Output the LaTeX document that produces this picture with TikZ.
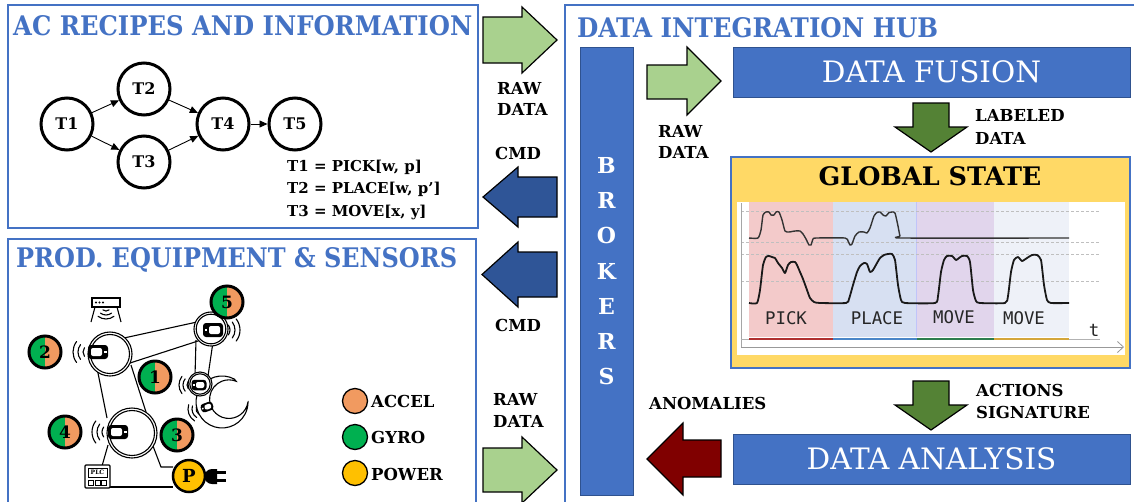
\documentclass[tikz,border=0pt]{standalone}
\usepackage{fontspec}
\usepackage{graphicx}
\setmainfont{DejaVu Serif}
\newfontfamily\monofam{DejaVu Sans Mono}
\usetikzlibrary{arrows.meta}

\definecolor{tblue}{HTML}{4472C4}
\definecolor{boxblue}{HTML}{4472C4}
\definecolor{boxedge}{HTML}{2F528F}
\definecolor{lgreen}{HTML}{A9D18E}
\definecolor{cmdblue}{HTML}{2F5597}
\definecolor{dgreen}{HTML}{548235}
\definecolor{dred}{HTML}{800000}
\definecolor{gsyellow}{HTML}{FFD966}
\definecolor{sgreen}{HTML}{00B050}
\definecolor{sorange}{HTML}{F19A60}
\definecolor{pyellow}{HTML}{FFC000}
\definecolor{bandpick}{HTML}{F3CACA}
\definecolor{bandplace}{HTML}{D7E0F2}
\definecolor{bandmove}{HTML}{E1D5EC}
\definecolor{bandmoveb}{HTML}{EEF1F8}
\definecolor{segred}{HTML}{B03030}
\definecolor{segblue}{HTML}{4A86C8}
\definecolor{seggreen}{HTML}{2E7D4F}
\definecolor{seggold}{HTML}{D4A63A}

% panel heading set to a fixed width and cap height
\newcommand{\heading}[2]{\resizebox{#1}{20pt}{#2}}
% small sensor housing: black body, white window, white status dash
\newcommand{\sglyph}[4]{%
  \begin{scope}[shift={(#1,#2)}, rotate=#3, scale=#4]
    \fill[black, rounded corners=3pt] (-10,-7) rectangle (10,7);
    \fill[white, rounded corners=2pt] (-7,-4) rectangle (4,4);
    \fill[white] (6,-1.2) rectangle (8.5,1.2);
  \end{scope}}
% wireless waves: centre x, centre y, direction (deg, y down), radii
\newcommand{\swaves}[4]{%
  \foreach \rr in {#4} {\draw[wave] (#1,#2) ++({#3-38}:\rr) arc[start angle={#3-38}, end angle={#3+38}, radius=\rr];}}

\begin{document}
\begin{tikzpicture}[x=1pt, y=-1pt,
  panel/.style={draw=tblue, line width=1.3},
  ttl/.style={text=tblue, font=\bfseries, anchor=base west, inner sep=0},
  lbl/.style={font=\fontsize{16.5}{18}\selectfont\bfseries, anchor=base west, inner sep=0},
  tnode/.style={circle, draw, line width=3, minimum size=52pt, inner sep=0, font=\fontsize{16}{18}\selectfont\bfseries},
  tedge/.style={line width=0.9, -{Triangle[length=8pt,width=7pt]}},
  recipe/.style={font=\fontsize{15}{17}\selectfont\bfseries, anchor=base west, inner sep=0},
  barrow/.style={draw=black, line width=1.2, line join=miter},
  hubbox/.style={fill=boxblue, draw=boxedge, line width=1, inner sep=0},
  hubtext/.style={text=white, font=\fontsize{29.5}{32}\selectfont, inner sep=0},
  brk/.style={text=white, font=\fontsize{22}{24}\selectfont\bfseries, inner sep=0},
  sensor/.style={circle, draw=black, line width=3, minimum size=32pt, inner sep=0,
    font=\fontsize{17}{19}\selectfont\bfseries,
    path picture={\fill[sgreen] (path picture bounding box.south west) rectangle (path picture bounding box.north);
                  \fill[sorange] (path picture bounding box.south) rectangle (path picture bounding box.north east);}},
  legend/.style={circle, draw=black, line width=1.3, minimum size=25pt, inner sep=0},
  robot/.style={line width=1.1, black},
  wave/.style={line width=1.1, line cap=round},
  chartlbl/.style={font=\monofam\fontsize{17.4}{19}\selectfont, text=black!85, inner sep=0},
]
\useasboundingbox (0,0) rectangle (1134,501);
\clip (0,0) rectangle (1134,501);

% ---------- panel frames ----------
\draw[panel] (8,5) rectangle (478,228);
\draw[panel] (8,239) rectangle (476,530);
\draw[panel] (565,5) rectangle (1150,530);

\node[ttl] (ttlrec) at (13,35) {\heading{459pt}{AC RECIPES AND INFORMATION}};
\node[ttl] (ttlprod) at (16,267) {\heading{441pt}{PROD. EQUIPMENT \& SENSORS}};
\node[ttl] (ttlhub) at (577,37) {\heading{361pt}{DATA INTEGRATION HUB}};

% ---------- recipe graph ----------
\node[tnode] (t1) at (67,124) {T1};
\node[tnode] (t2) at (144,89) {T2};
\node[tnode] (t3) at (144,162) {T3};
\node[tnode] (t4) at (223,124) {T4};
\node[tnode] (t5) at (295,124) {T5};
\draw[tedge] (t1) -- (t2);
\draw[tedge] (t1) -- (t3);
\draw[tedge] (t2) -- (t4);
\draw[tedge] (t3) -- (t4);
\draw[tedge] (t4) -- (t5);
\node[recipe] (r1) at (287,171) {T1 = PICK[w, p]};
\node[recipe] (r2) at (287,193.5) {T2 = PLACE[w, p’]};
\node[recipe] (r3) at (287,216) {T3 = MOVE[x, y]};

% ---------- block arrows between panels ----------
\draw[barrow, fill=lgreen] (483,17) -- (522,17) -- (522,7) -- (557,40) -- (522,73) -- (522,63) -- (483,63) -- cycle;
\draw[barrow, fill=cmdblue] (557,177) -- (518,177) -- (518,167) -- (483,197) -- (518,227) -- (518,217) -- (557,217) -- cycle;
\draw[barrow, fill=cmdblue] (557,252) -- (518,252) -- (518,242) -- (482,274.5) -- (518,307) -- (518,297) -- (557,297) -- cycle;
\draw[barrow, fill=lgreen] (483,448) -- (522,448) -- (522,437) -- (557,470) -- (522,503) -- (522,492) -- (483,492) -- cycle;

\node[lbl] (raw1a) at (497,94) {RAW};
\node[lbl] (raw1b) at (497,115) {DATA};
\node[lbl] (cmd1) at (495,159) {CMD};
\node[lbl] (cmd2) at (495,331) {CMD};
\node[lbl] (raw2a) at (493,405) {RAW};
\node[lbl] (raw2b) at (493,427) {DATA};

% ---------- hub ----------
\node[hubbox, minimum width=53pt, minimum height=448pt] (brokers) at (606.5,271) {};
\foreach \ch [count=\i] in {B,R,O,K,E,R,S}
  \node[brk] (brk\i) at (606.5,{165+(\i-1)*35.33}) {\ch};

\node[hubbox, minimum width=397pt, minimum height=50pt] (fusion) at (931.5,72) {};
\node[hubtext] (fusiont) at (fusion.center) {DATA FUSION};
\node[hubbox, minimum width=397pt, minimum height=50pt] (analysis) at (931.5,459) {};
\node[hubtext] (analysist) at (analysis.center) {DATA ANALYSIS};

\draw[barrow, fill=lgreen] (647,65) -- (687,65) -- (687,47) -- (721,81) -- (687,115) -- (687,99) -- (647,99) -- cycle;
\node[lbl] (raw3a) at (658,137) {RAW};
\node[lbl] (raw3b) at (658,158) {DATA};

\draw[barrow, fill=dgreen] (913,103) -- (949,103) -- (949,127) -- (967,127) -- (931,152) -- (895,127) -- (913,127) -- cycle;
\node[lbl] (laba) at (975,121) {LABELED};
\node[lbl] (labb) at (975,144) {DATA};

\draw[barrow, fill=dgreen] (913,381) -- (949,381) -- (949,405) -- (967,405) -- (931,430) -- (895,405) -- (913,405) -- cycle;
\node[lbl] (acta) at (976,396) {ACTIONS};
\node[lbl] (actb) at (976,418) {SIGNATURE};

\draw[barrow, fill=dred] (721,440) -- (683,440) -- (683,423) -- (647,459) -- (683,495) -- (683,477) -- (721,477) -- cycle;
\node[lbl] (anom) at (649,409) {ANOMALIES};

% ---------- global state ----------
\draw[fill=gsyellow, draw=tblue, line width=1.5] (731,157) rectangle (1130,368);
\node[font=\fontsize{25.5}{28}\selectfont\bfseries, inner sep=0, anchor=base] (gst) at (930,185) {GLOBAL STATE};
\fill[white] (737,202) rectangle (1125,355);
\fill[bandpick] (749,202) rectangle (833,337);
\fill[bandplace] (833,202) rectangle (916,337);
\fill[bandmove] (916,202) rectangle (994,337);
\fill[bandmoveb] (994,202) rectangle (1069,337);
\draw[bandplace!70!blue!60, line width=0.6] (916,202) -- (916,337);
\foreach \yy in {211,242,254,281}
  \draw[gray!50, line width=0.7, dash pattern=on 3pt off 2pt] (741,\yy) -- (1100,\yy);
\draw[gray!70, line width=0.8] (741,203) -- (741,347);
\draw[gray!60, line width=0.8] (741,339) -- (1100,339);
\draw[gray!80, line width=0.8, -{Straight Barb[length=6pt,width=11pt]}] (741,347) -- (1124,347);
\draw[segred, line width=2] (749,339) -- (833,339);
\draw[segblue, line width=2] (833,339) -- (917,339);
\draw[seggreen, line width=2] (917,339) -- (994,339);
\draw[seggold, line width=2] (994,339) -- (1069,339);

\draw[black!80, line width=1.4, line join=round] plot[smooth, tension=0.35] coordinates {
 (749,238) (758,238) (761,230) (763,215) (766,212) (769,212) (771,215) (774,215) (776,212) (779,212)
 (782,220) (785,231) (789,232) (795,231) (800,231) (803,234) (806,239) (809,245) (811,245) (813,239)
 (816,238) (845,238) (848,241) (850,245) (852,244) (855,236) (859,232) (864,232) (867,233) (870,228)
 (874,216) (877,212.5) (880,212) (883,215) (886,216) (889,212.5) (892,212) (895,213) (898,226) (900,236)
 (903,238) (1069,238)};
\draw[black!90, line width=1.8, line join=round] plot[smooth, tension=0.35] coordinates {
 (749,303) (757,303) (760,290) (763,265) (766,257) (769,256) (772,257) (775,258) (778,263) (782,268)
 (785,273) (788,265) (791,262) (795,262) (797,265) (800,272) (803,279) (807,290) (810,298) (814,302)
 (820,303) (846,303) (849,299) (853,285) (857,272) (860,266) (864,263) (867,264) (870,272) (873,270)
 (877,263) (880,258) (884,255) (888,254) (892,254) (895,260) (898,285) (901,300) (905,303) (935,303)
 (938,296) (941,272) (944,260) (947,256) (952,256) (956,260) (959,258) (962,256) (967,256) (970,262)
 (973,290) (976,301) (980,303) (1005,303) (1008,296) (1011,272) (1014,260) (1018,257) (1022,261) (1027,258)
 (1032,255) (1037,255) (1041,260) (1044,285) (1047,300) (1051,303) (1069,303)};
\node[chartlbl] (lpick) at (786,318) {PICK};
\node[chartlbl] (lplace) at (877,318) {PLACE};
\node[chartlbl] (lmove) at (954,317) {MOVE};
\node[chartlbl] (lmoveb) at (1024,318) {MOVE};
\node[chartlbl] (lt) at (1094,330) {t};

% ---------- robot arm ----------
% links
\draw[robot] (97,368) -- (107,418);
\draw[robot] (131,365) -- (146,412);
\draw[robot] (124,338) -- (197,322);
\draw[robot] (130,363) -- (198,341);
\draw[robot] (196,340) -- (195,376);
\draw[robot] (213,342) -- (208,376);
% cables to controller and supply
\draw[robot] (108,445) -- (102,466);
\draw[robot] (153,446) -- (161,467) -- (173,467);
\draw[robot] (110,487) -- (173,487);
% gripper jaw
\filldraw[robot, fill=white] (234.4,379.1) arc[start angle=298.4, end angle=0, radius=26]
  -- (248,402) arc[start angle=8.5, end angle=292, radius=19.3] -- cycle;
% joints
\filldraw[robot, fill=white] (110,354) circle[radius=22];
\draw[robot] (110,354) circle[radius=19.5];
\filldraw[robot, fill=white] (132,433) circle[radius=25];
\draw[robot] (132,433) circle[radius=22.5];
\filldraw[robot, fill=white] (211,329) circle[radius=17];
\draw[robot] (211,329) circle[radius=14.8];
\filldraw[robot, fill=white] (200,384) circle[radius=12];
\draw[robot] (200,384) circle[radius=10.2];
% sensor housings and waves
\sglyph{98}{352}{0}{1}
\swaves{90}{352}{180}{7,12,17}
\sglyph{213}{330}{180}{1}
\swaves{222}{330}{0}{8,13,18}
\sglyph{199}{385}{180}{0.75}
\swaves{193}{385}{180}{6,10,14}
\sglyph{207}{407}{200}{0.62}
\swaves{202}{409}{160}{6,10,14}
\sglyph{118}{432}{0}{1}
\swaves{110}{432}{180}{8,13,18}
% wireless gateway
\draw[robot] (92,298) rectangle (120,307);
\foreach \xx in {96,99.5,103} \fill (\xx,302.5) circle[radius=1.1];
\draw[robot] (95,307) -- (91,322);
\draw[robot] (117,307) -- (121,322);
\swaves{106}{306}{90}{5,9,13}
% PLC
\draw[robot, fill=white, rounded corners=1pt] (85,465) rectangle (110,488);
\draw[line width=0.8] (88,468) rectangle (107,477);
\node[font=\fontsize{6}{6}\selectfont\bfseries, inner sep=0] (plc) at (97.5,472.6) {PLC};
\foreach \xx in {88.5,95,101.5} \draw[line width=0.8] (\xx,480) rectangle ++(5,5);
% mains plug
\fill (217,469) -- (212,469) arc[start angle=270, end angle=90, radius=7.5] -- (217,484) -- cycle;
\draw[line width=2.5] (216,472.5) -- (226,472.5);
\draw[line width=2.5] (216,480.5) -- (226,480.5);

% sensors
\node[sensor] (s1) at (155,377) {1};
\node[sensor] (s2) at (45,352) {2};
\node[sensor] (s3) at (177,435) {3};
\node[sensor] (s4) at (65,432) {4};
\node[sensor] (s5) at (227,302) {5};
\node[circle, draw=black, line width=2.5, fill=pyellow, minimum size=32pt, inner sep=0,
      font=\fontsize{18}{20}\selectfont\bfseries] (pw) at (189,476) {P};

% legend
\node[legend, fill=sorange] (lga) at (355,401) {};
\node[legend, fill=sgreen] (lgg) at (355,437) {};
\node[legend, fill=pyellow] (lgp) at (355,473) {};
\node[lbl] (lgat) at (371,407) {ACCEL};
\node[lbl] (lggt) at (371,443) {GYRO};
\node[lbl] (lgpt) at (371,480) {POWER};
\end{tikzpicture}
\end{document}
